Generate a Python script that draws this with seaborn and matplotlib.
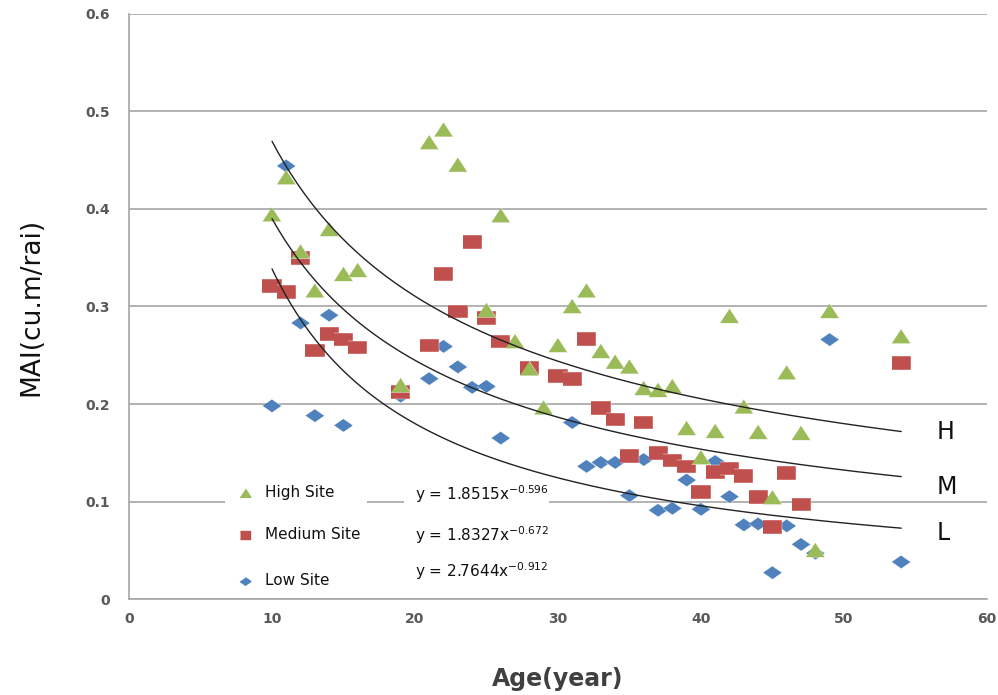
import numpy as np
import pandas as pd
import seaborn as sns
import matplotlib.pyplot as plt

# High site (green triangles)
high_age = [10, 11, 12, 13, 14, 15, 16, 19, 21, 22, 23, 25, 26, 27, 28, 29, 30, 31,
            32, 33, 34, 35, 36, 37, 38, 39, 40, 41, 42, 43, 44, 45, 46, 47, 48, 49, 54]
high_mai = [0.394, 0.432, 0.356, 0.316, 0.379, 0.333, 0.337, 0.219, 0.468, 0.481, 0.445,
            0.296, 0.393, 0.264, 0.236, 0.196, 0.260, 0.300, 0.316, 0.254, 0.243, 0.238,
            0.216, 0.214, 0.218, 0.175, 0.145, 0.172, 0.290, 0.197, 0.171, 0.104, 0.232,
            0.170, 0.050, 0.295, 0.269]

# Medium site (red squares)
med_age = [10, 11, 12, 13, 14, 15, 16, 19, 21, 22, 23, 24, 25, 26, 28, 30, 31, 32, 33,
           34, 35, 36, 37, 38, 39, 40, 41, 42, 43, 44, 45, 46, 47, 54]
med_mai = [0.321, 0.315, 0.350, 0.255, 0.272, 0.266, 0.258, 0.212, 0.260, 0.333, 0.295,
           0.366, 0.288, 0.264, 0.237, 0.229, 0.226, 0.267, 0.196, 0.184, 0.147, 0.181,
           0.150, 0.142, 0.136, 0.110, 0.130, 0.134, 0.126, 0.105, 0.074, 0.129, 0.097,
           0.242]

# Low site (blue diamonds)
low_age = [10, 11, 12, 13, 14, 15, 19, 21, 22, 23, 24, 25, 26, 31, 32, 33, 34, 35, 36,
           37, 38, 39, 40, 41, 42, 43, 44, 45, 46, 47, 48, 49, 54]
low_mai = [0.198, 0.444, 0.283, 0.188, 0.291, 0.178, 0.208, 0.226, 0.259, 0.238, 0.217,
           0.218, 0.165, 0.181, 0.136, 0.140, 0.140, 0.106, 0.143, 0.091, 0.093, 0.122,
           0.092, 0.141, 0.105, 0.076, 0.077, 0.027, 0.075, 0.056, 0.047, 0.266, 0.038]

# power trendlines y = a * x^b as printed on the chart
trend_names = ["High Site", "Medium Site", "Low Site"]
trend_a = [1.8515, 1.8327, 2.7644]
trend_b = [-0.596, -0.672, -0.912]
trend_tags = ["H", "M", "L"]

df = pd.concat([
    pd.DataFrame({"age": low_age, "mai": low_mai, "site": "Low Site"}),
    pd.DataFrame({"age": med_age, "mai": med_mai, "site": "Medium Site"}),
    pd.DataFrame({"age": high_age, "mai": high_mai, "site": "High Site"}),
])

colors = {"High Site": "#9BBB59", "Medium Site": "#C0504D", "Low Site": "#4F81BD"}
# slightly wide markers, like the stretched original
tri = [(-0.62, -0.45), (0.62, -0.45), (0.0, 0.5)]
rect = [(-0.7, -0.5), (0.7, -0.5), (0.7, 0.5), (-0.7, 0.5)]
diam = [(-0.72, 0.0), (0.0, -0.5), (0.72, 0.0), (0.0, 0.5)]
markers = {"High Site": tri, "Medium Site": rect, "Low Site": diam}

sns.set_style("white")
plt.rcParams['font.family'] = ['DejaVu Sans']

fig = plt.figure(figsize=(9.98, 6.95), dpi=100)
ax = fig.add_axes([0.1293, 0.138, 0.8597, 0.842])

sns.scatterplot(data=df, x="age", y="mai", hue="site", style="site",
                palette=colors, markers=markers, s=190, linewidth=0.3,
                edgecolor="white", ax=ax, legend=False, zorder=3)

ages_by_site = {"High Site": high_age, "Medium Site": med_age, "Low Site": low_age}
for name, a, b in zip(trend_names, trend_a, trend_b):
    ages = ages_by_site[name]
    xs = np.linspace(min(ages), max(ages), 200)
    ax.plot(xs, a * xs ** b, color="#222222", lw=1.0, zorder=4)

ax.set_xlim(0, 60)
ax.set_ylim(0, 0.6)
ax.set_xticks(range(0, 61, 10))
ax.set_yticks([0, 0.1, 0.2, 0.3, 0.4, 0.5, 0.6])
ax.set_yticklabels(["0", "0.1", "0.2", "0.3", "0.4", "0.5", "0.6"])
ax.yaxis.grid(True, color="#A6A6A6", lw=1.2)
ax.set_axisbelow(True)
for sp in ["top", "right"]:
    ax.spines[sp].set_visible(False)
for sp in ["left", "bottom"]:
    ax.spines[sp].set_color("#A6A6A6")
    ax.spines[sp].set_linewidth(1.2)
ax.tick_params(axis="both", direction="inout", length=7, width=1, color="#A6A6A6",
               labelsize=10, labelcolor="#595959")
ax.tick_params(axis="y", pad=10)
ax.tick_params(axis="x", pad=6)
for lab in ax.get_xticklabels() + ax.get_yticklabels():
    lab.set_fontweight("bold")

ax.set_xlabel("Age(year)", fontsize=17, fontweight="bold", color="#404040", labelpad=29)
ax.set_ylabel("MAI(cu.m/rai)", fontsize=19, color="#111111", labelpad=30)

# legend block with white background over the gridline
leg_y = [0.109, 0.066, 0.019]
bx = ax.inset_axes([0.112, 0.015, 0.165, 0.195])
bx.set_facecolor("white")
bx.set_xticks([]); bx.set_yticks([])
for sp in bx.spines.values():
    sp.set_visible(False)
for name, yy in zip(trend_names, leg_y):
    ax.scatter([8.1], [yy], marker=markers[name], s=60, color=colors[name], zorder=6)
    ax.text(9.5, yy, name, fontsize=11, va="center", color="#111111", zorder=6)

ex = ax.inset_axes([0.32, 0.015, 0.17, 0.195])
ex.set_facecolor("white")
ex.set_xticks([]); ex.set_yticks([])
for sp in ex.spines.values():
    sp.set_visible(False)
eq_y = [0.108, 0.066, 0.029]
for a, b, yy in zip(trend_a, trend_b, eq_y):
    ax.text(20.0, yy, "y = %.4fx$^{%.3f}$" % (a, b), fontsize=11, va="center",
            color="#111111", zorder=6)

tag_y = [0.171, 0.115, 0.068]
for tag, yy in zip(trend_tags, tag_y):
    ax.text(56.5, yy, tag, fontsize=17, va="center", color="#111111")

fig.savefig("out.png", dpi=100)
